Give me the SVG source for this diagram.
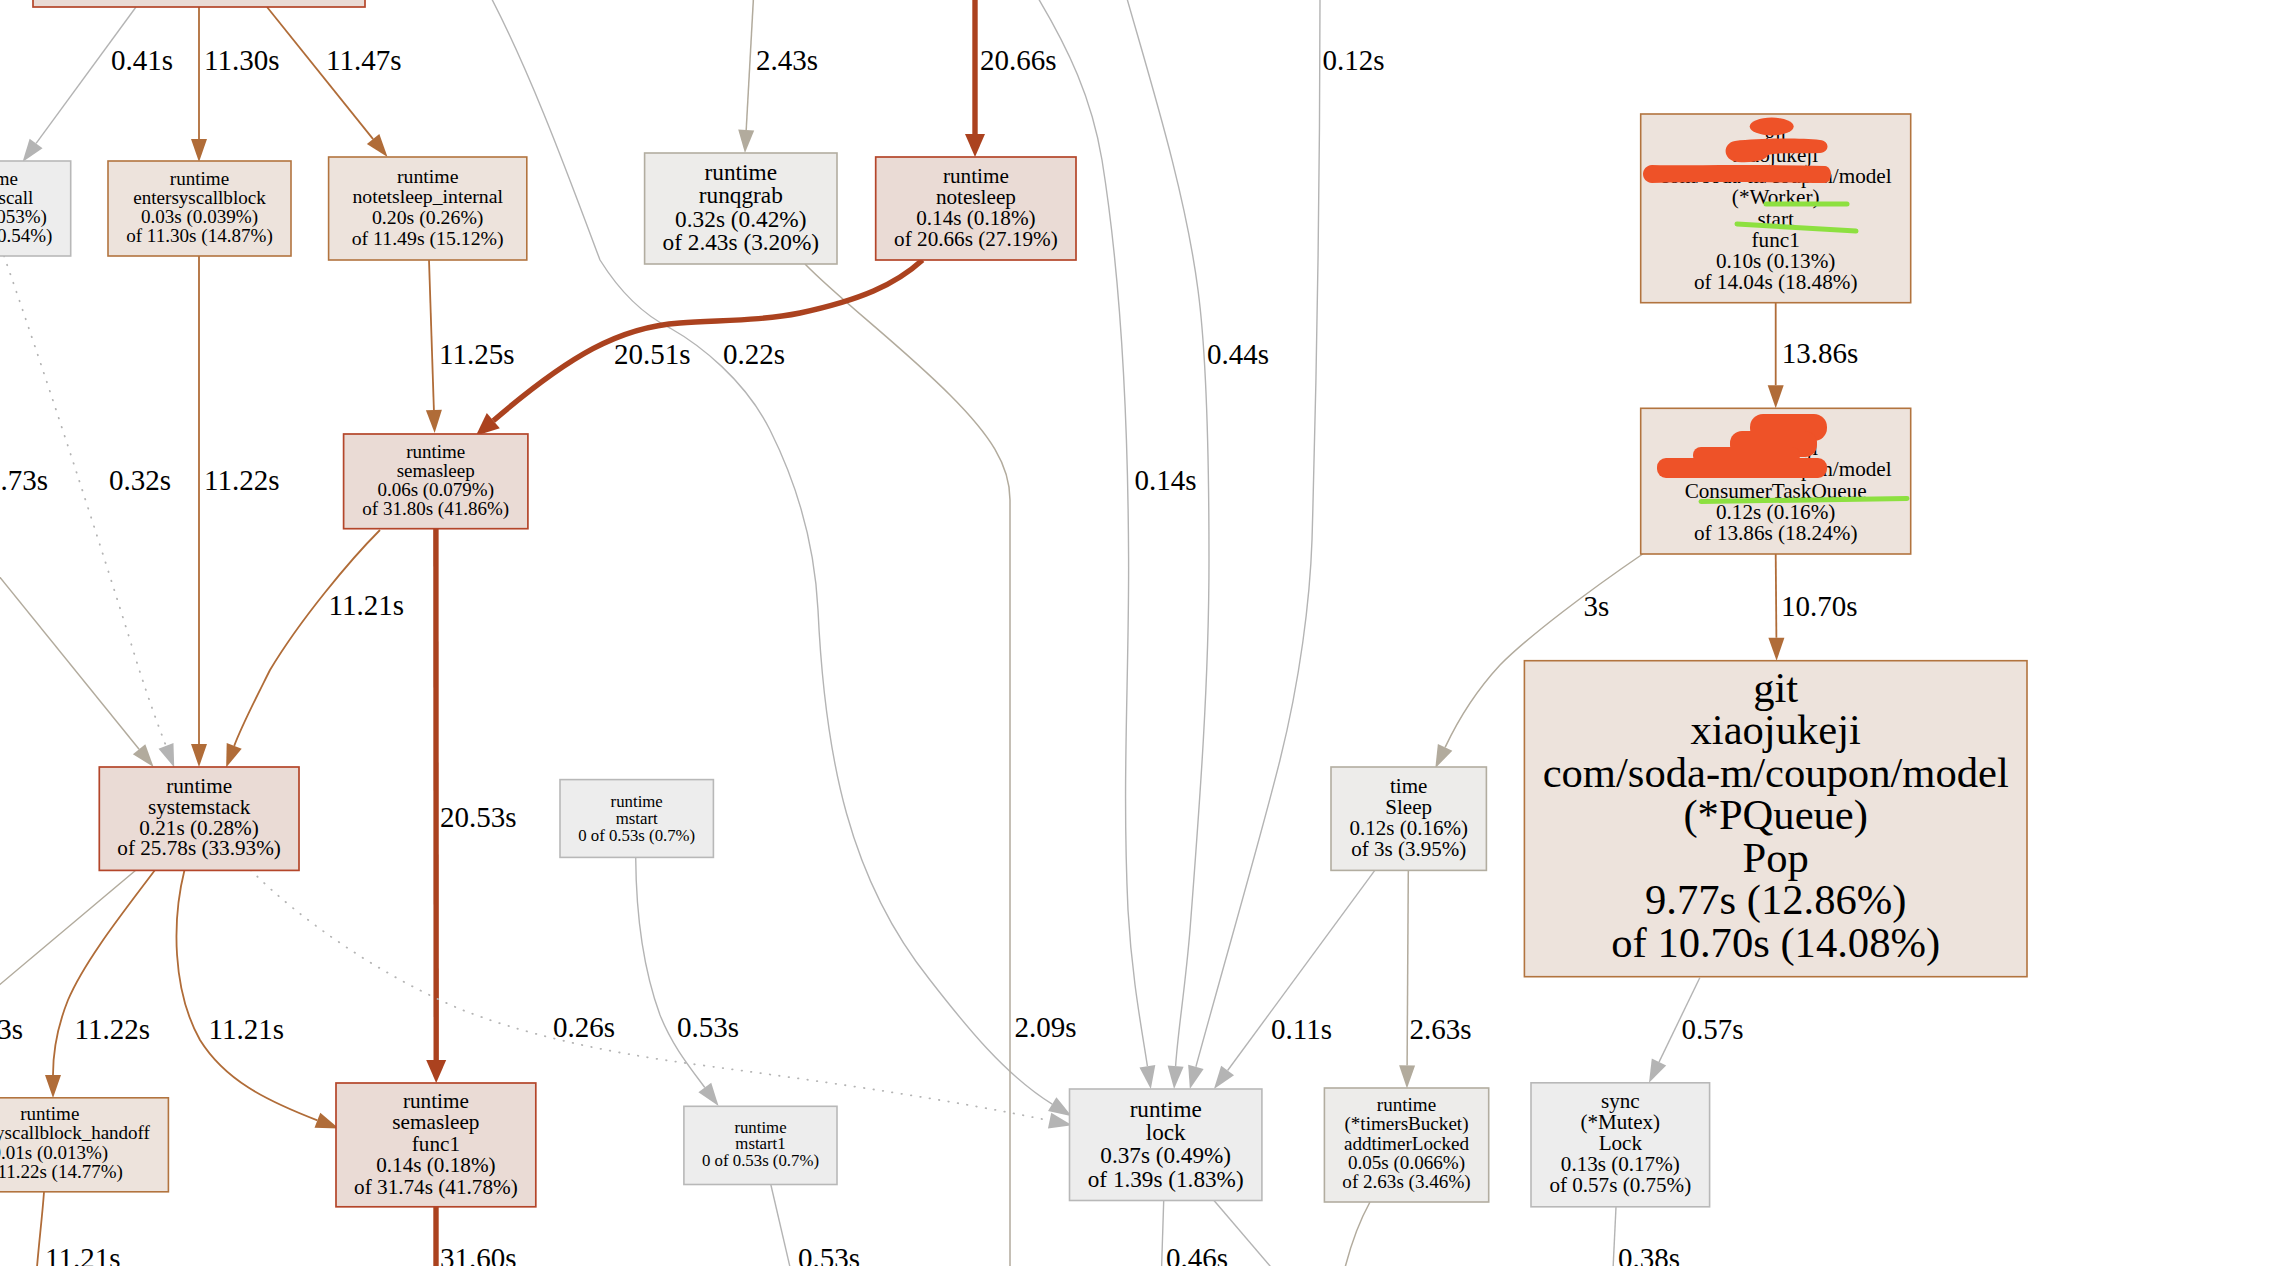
<svg xmlns="http://www.w3.org/2000/svg" width="2278" height="1266" viewBox="0 0 2278 1266">
<style>
.n-red{fill:#eadbd5;stroke:#b4462a;stroke-width:1.7}
.n-brown{fill:#ede3dc;stroke:#b2743f;stroke-width:1.6}
.n-tan{fill:#edecea;stroke:#b2ada0;stroke-width:1.6}
.n-grey{fill:#ededed;stroke:#b8b8b8;stroke-width:1.6}
.t{font-family:"Liberation Serif","Times New Roman",serif;text-anchor:middle;fill:#000}
.el{font-family:"Liberation Serif","Times New Roman",serif;font-size:29px;fill:#000}
.e{fill:none}
.e-red{stroke:#ab421f;stroke-width:5.4}
.e-brown{stroke:#b06c38;stroke-width:1.8}
.e-tan{stroke:#b2ab9d;stroke-width:1.5}
.e-grey{stroke:#b4b4b4;stroke-width:1.4}
.e-dot{stroke:#b4b4b4;stroke-width:1.8;stroke-dasharray:0.5 9;stroke-linecap:round}
.redact{fill:#ee5228}
.hl{stroke:#8de040;stroke-width:5;stroke-linecap:round;fill:none}
</style>
<defs>
<marker id="a-grey" markerUnits="userSpaceOnUse" markerWidth="24" markerHeight="18" refX="0" refY="9" orient="auto" overflow="visible"><path d="M0,1 L23,9 L0,17 z" fill="#b4b4b4"/></marker>
<marker id="a-tan" markerUnits="userSpaceOnUse" markerWidth="24" markerHeight="18" refX="0" refY="9" orient="auto" overflow="visible"><path d="M0,1 L23,9 L0,17 z" fill="#b2ab9d"/></marker>
<marker id="a-brown" markerUnits="userSpaceOnUse" markerWidth="24" markerHeight="18" refX="0" refY="9" orient="auto" overflow="visible"><path d="M0,1 L23,9 L0,17 z" fill="#b06c38"/></marker>
<marker id="a-red" markerUnits="userSpaceOnUse" markerWidth="24" markerHeight="22" refX="0" refY="11" orient="auto" overflow="visible"><path d="M0,1 L23,11 L0,21 z" fill="#ab421f"/></marker>
</defs>
<rect x="0" y="0" width="2278" height="1266" fill="#fff"/>

<g id="connectors">
<path class="e e-grey" d="M136,7 L36.1,143.4" marker-end="url(#a-grey)"/>
<path class="e e-brown" d="M199,7 L199,139" marker-end="url(#a-brown)"/>
<path class="e e-brown" d="M267,7 L373.1,139.1" marker-end="url(#a-brown)"/>
<path class="e e-tan" d="M754,-12 L746.2,130" marker-end="url(#a-tan)"/>
<path class="e e-red" d="M975,-12 L975,134" marker-end="url(#a-red)"/>
<path class="e e-grey" d="M1032,-12 C1070,50 1092,100 1102,160 C1118,260 1128,400 1128.6,560 C1129,680 1122,780 1128,910 C1132,980 1142,1030 1147.4,1066.2" marker-end="url(#a-grey)"/>
<path class="e e-grey" d="M1124,-12 C1150,80 1185,190 1198,290 C1206,350 1209,450 1209,560 C1209,680 1200,800 1190,930 C1185,990 1178,1030 1175.6,1066.1" marker-end="url(#a-grey)"/>
<path class="e e-grey" d="M1320,-12 C1320,200 1316,400 1312,540 C1310,600 1300,680 1280,760 C1260,840 1225,960 1195.9,1066.8" marker-end="url(#a-grey)"/>
<path class="e e-grey" d="M486,-12 C530,70 570,180 600,260 C625,300 650,318 670,328 C700,345 745,380 770,430 C800,490 815,550 818,610 C825,760 850,880 930,980 C965,1025 1005,1075 1052.2,1104.1" marker-end="url(#a-grey)"/>
<path class="e e-tan" d="M805,264 C840,300 900,345 950,395 C990,435 1010,465 1010,500 L1010,1280"/>
<path class="e e-red" d="M922.5,260 C895,285 860,300 800,313 C760,321 720,320 680,323 C620,327 570,355 493.3,420.7" marker-end="url(#a-red)"/>
<path class="e e-brown" d="M429,260 L433.9,410" marker-end="url(#a-brown)"/>
<path class="e e-red" d="M435.9,529 L436.2,1060" marker-end="url(#a-red)"/>
<path class="e e-brown" d="M380,530 C350,560 300,620 270,670 C255,700 242,725 234.2,745.9" marker-end="url(#a-brown)"/>
<path class="e e-brown" d="M199,256 L199,744" marker-end="url(#a-brown)"/>
<path class="e e-dot" d="M4,256 C30,330 80,480 130,640 C145,690 158,725 166,745.9" marker-end="url(#a-grey)"/>
<path class="e e-tan" d="M-40,528 L139.1,749.2" marker-end="url(#a-tan)"/>
<path class="e e-tan" d="M136,870 L-40,1018"/>
<path class="e e-brown" d="M155,870 C125,910 85,960 68,1000 C58,1025 53,1050 53,1074.9" marker-end="url(#a-brown)"/>
<path class="e e-brown" d="M184.5,870 C172,920 172,990 200,1040 C225,1080 265,1100 317.4,1120.3" marker-end="url(#a-brown)"/>
<path class="e e-dot" d="M250.7,870 C300,920 380,975 460,1009 C520,1033 600,1052 700,1065 C850,1085 950,1100 1049.6,1120.6" marker-end="url(#a-grey)"/>
<path class="e e-brown" d="M44,1192 C42,1220 38,1250 36,1280"/>
<path class="e e-red" d="M436,1207 L436,1280"/>
<path class="e e-grey" d="M635.7,857.4 C636,900 640,960 660,1015 C672,1045 688,1065 704.8,1087.5" marker-end="url(#a-grey)"/>
<path class="e e-grey" d="M770.8,1184.5 L793,1280"/>
<path class="e e-grey" d="M1374.8,870.4 L1227.6,1070.5" marker-end="url(#a-grey)"/>
<path class="e e-tan" d="M1408.3,870.4 L1407.1,1065.4" marker-end="url(#a-tan)"/>
<path class="e e-tan" d="M1642.7,554 C1590,590 1530,635 1500,665 C1475,692 1458,720 1445.1,747.4" marker-end="url(#a-tan)"/>
<path class="e e-brown" d="M1775.7,302.7 L1775.7,385.3" marker-end="url(#a-brown)"/>
<path class="e e-brown" d="M1775.7,554 L1776.4,637.7" marker-end="url(#a-brown)"/>
<path class="e e-grey" d="M1699.8,977.7 L1659,1062.1" marker-end="url(#a-grey)"/>
<path class="e e-grey" d="M1616,1207 L1612.5,1280"/>
<path class="e e-tan" d="M1370,1202 C1360,1220 1350,1245 1342,1280"/>
<path class="e e-grey" d="M1163.7,1200.5 L1161.2,1280"/>
<path class="e e-grey" d="M1214,1200.5 L1282,1280"/>

<text class="el" x="111" y="70">0.41s</text>
<text class="el" x="204" y="70">11.30s</text>
<text class="el" x="326" y="70">11.47s</text>
<text class="el" x="756" y="70">2.43s</text>
<text class="el" x="980" y="70">20.66s</text>
<text class="el" x="1322.5" y="70">0.12s</text>
<text class="el" x="1207" y="364">0.44s</text>
<text class="el" x="1134.6" y="490">0.14s</text>
<text class="el" x="439" y="364">11.25s</text>
<text class="el" x="614" y="364">20.51s</text>
<text class="el" x="723" y="364">0.22s</text>
<text class="el" x="1781.7" y="363.3">13.86s</text>
<text class="el" x="1583.6" y="616">3s</text>
<text class="el" x="1781" y="616">10.70s</text>
<text class="el" x="48" y="490" text-anchor="end">2.73s</text>
<text class="el" x="109" y="490">0.32s</text>
<text class="el" x="204" y="490">11.22s</text>
<text class="el" x="328.6" y="615">11.21s</text>
<text class="el" x="440" y="826.7">20.53s</text>
<text class="el" x="23" y="1038.6" text-anchor="end">1.03s</text>
<text class="el" x="74.6" y="1038.6">11.22s</text>
<text class="el" x="208.6" y="1038.6">11.21s</text>
<text class="el" x="553" y="1037">0.26s</text>
<text class="el" x="677" y="1037">0.53s</text>
<text class="el" x="1014.6" y="1037">2.09s</text>
<text class="el" x="1271" y="1038.6">0.11s</text>
<text class="el" x="1409.6" y="1038.6">2.63s</text>
<text class="el" x="1681.5" y="1038.6">0.57s</text>
<text class="el" x="45" y="1268">11.21s</text>
<text class="el" x="440" y="1268">31.60s</text>
<text class="el" x="798" y="1268">0.53s</text>
<text class="el" x="1166" y="1268">0.46s</text>
<text class="el" x="1618" y="1268">0.38s</text>
</g>

<g id="n_top"><rect class="n-red" x="33" y="-60" width="332" height="67"/></g>

<g id="n_syscall"><rect class="n-grey" x="-93.5" y="161" width="164.2" height="95"/>
<text class="t" style="font-size:19px"><tspan x="-11.5" y="185">runtime</tspan><tspan x="-11.5" y="204">entersyscall</tspan><tspan x="-11.5" y="223">0.04s (0.053%)</tspan><tspan x="-11.5" y="242">of 0.41s (0.54%)</tspan></text></g>

<g id="n_entersyscallblock"><rect class="n-brown" x="108" y="161" width="183" height="95"/>
<text class="t" style="font-size:19.1px"><tspan x="199.5" y="185">runtime</tspan><tspan x="199.5" y="204">entersyscallblock</tspan><tspan x="199.5" y="223">0.03s (0.039%)</tspan><tspan x="199.5" y="242">of 11.30s (14.87%)</tspan></text></g>

<g id="n_notetsleep_internal"><rect class="n-brown" x="328.6" y="157" width="198.2" height="103"/>
<text class="t" style="font-size:19.8px"><tspan x="427.7" y="182.7">runtime</tspan><tspan x="427.7" y="203.4">notetsleep_internal</tspan><tspan x="427.7" y="224.1">0.20s (0.26%)</tspan><tspan x="427.7" y="244.8">of 11.49s (15.12%)</tspan></text></g>

<g id="n_runqgrab"><rect class="n-tan" x="644.6" y="153" width="192.4" height="111"/>
<text class="t" style="font-size:23.3px"><tspan x="740.8" y="180">runtime</tspan><tspan x="740.8" y="203.3">runqgrab</tspan><tspan x="740.8" y="226.6">0.32s (0.42%)</tspan><tspan x="740.8" y="249.9">of 2.43s (3.20%)</tspan></text></g>

<g id="n_notesleep"><rect class="n-red" x="875.7" y="157" width="200.3" height="103"/>
<text class="t" style="font-size:21.2px"><tspan x="975.9" y="183">runtime</tspan><tspan x="975.9" y="204.1">notesleep</tspan><tspan x="975.9" y="225.2">0.14s (0.18%)</tspan><tspan x="975.9" y="246.3">of 20.66s (27.19%)</tspan></text></g>

<g id="n_semasleep"><rect class="n-red" x="343.6" y="434" width="184.3" height="94.7"/>
<text class="t" style="font-size:19px"><tspan x="435.7" y="458.3">runtime</tspan><tspan x="435.7" y="477.3">semasleep</tspan><tspan x="435.7" y="496.3">0.06s (0.079%)</tspan><tspan x="435.7" y="515.3">of 31.80s (41.86%)</tspan></text></g>

<g id="n_systemstack"><rect class="n-red" x="99.3" y="767" width="199.7" height="103.4"/>
<text class="t" style="font-size:21.2px"><tspan x="199.1" y="792.7">runtime</tspan><tspan x="199.1" y="813.6">systemstack</tspan><tspan x="199.1" y="834.5">0.21s (0.28%)</tspan><tspan x="199.1" y="855.4">of 25.78s (33.93%)</tspan></text></g>

<g id="n_mstart"><rect class="n-grey" x="560" y="779.6" width="153.4" height="77.8"/>
<text class="t" style="font-size:16.8px"><tspan x="636.7" y="807">runtime</tspan><tspan x="636.7" y="823.8">mstart</tspan><tspan x="636.7" y="840.6">0 of 0.53s (0.7%)</tspan></text></g>

<g id="n_sleep"><rect class="n-tan" x="1331" y="767" width="155.4" height="103.4"/>
<text class="t" style="font-size:21px"><tspan x="1408.7" y="793">time</tspan><tspan x="1408.7" y="813.9">Sleep</tspan><tspan x="1408.7" y="834.8">0.12s (0.16%)</tspan><tspan x="1408.7" y="855.7">of 3s (3.95%)</tspan></text></g>

<g id="n_pqueue"><rect class="n-brown" x="1524.4" y="660.7" width="502.6" height="316"/>
<text class="t" style="font-size:42.6px"><tspan x="1775.7" y="701.5">git</tspan><tspan x="1775.7" y="744">xiaojukeji</tspan><tspan x="1775.7" y="786.5">com/soda-m/coupon/model</tspan><tspan x="1775.7" y="829">(*PQueue)</tspan><tspan x="1775.7" y="871.5">Pop</tspan><tspan x="1775.7" y="914">9.77s (12.86%)</tspan><tspan x="1775.7" y="956.5">of 10.70s (14.08%)</tspan></text></g>

<g id="n_worker"><rect class="n-brown" x="1640.7" y="114" width="270" height="188.7"/>
<text class="t" style="font-size:21.2px"><tspan x="1775.7" y="140.8">git</tspan><tspan x="1775.7" y="162">xiaojukeji</tspan><tspan x="1775.7" y="183.2">com/soda-m/coupon/model</tspan><tspan x="1775.7" y="204.4">(*Worker)</tspan><tspan x="1775.7" y="225.6">start</tspan><tspan x="1775.7" y="246.8">func1</tspan><tspan x="1775.7" y="268">0.10s (0.13%)</tspan><tspan x="1775.7" y="289.2">of 14.04s (18.48%)</tspan></text>
<ellipse class="redact" cx="1771.7" cy="126.5" rx="22" ry="9"/>
<path class="redact" d="M1735,141 C1760,138 1800,138 1820,140 C1830,141 1830,152 1820,153 C1800,154 1775,152 1768,155 C1766,160 1755,163 1738,162 C1722,161 1722,143 1735,141 z"/>
<path class="redact" d="M1652,165 C1700,166 1760,164 1825,166 C1833,167 1833,182 1825,183 C1780,183 1720,181 1652,183 C1640,182 1640,166 1652,165 z"/>
<path class="hl" d="M1766,204 L1847,204"/>
<path class="hl" d="M1737,224 L1856,231"/>
</g>

<g id="n_ctq"><rect class="n-brown" x="1640.7" y="408.3" width="270" height="145.7"/>
<text class="t" style="font-size:21.2px"><tspan x="1775.7" y="434">git</tspan><tspan x="1775.7" y="455.2">xiaojukeji</tspan><tspan x="1775.7" y="476.4">com/soda-m/coupon/model</tspan><tspan x="1775.7" y="497.6">ConsumerTaskQueue</tspan><tspan x="1775.7" y="518.8">0.12s (0.16%)</tspan><tspan x="1775.7" y="540">of 13.86s (18.24%)</tspan></text>
<rect class="redact" x="1750" y="414" width="77" height="27" rx="13"/>
<rect class="redact" x="1730" y="431" width="87" height="26" rx="12"/>
<rect class="redact" x="1693" y="447" width="107" height="17" rx="8"/>
<rect class="redact" x="1657" y="458" width="170" height="20" rx="9"/>
<path class="hl" d="M1701,501.5 L1907,498.5"/>
</g>

<g id="n_handoff"><rect class="n-brown" x="-68.8" y="1097.8" width="237.2" height="94"/>
<text class="t" style="font-size:19px"><tspan x="49.8" y="1120">runtime</tspan><tspan x="49.8" y="1139.3">entersyscallblock_handoff</tspan><tspan x="49.8" y="1158.6">0.01s (0.013%)</tspan><tspan x="49.8" y="1177.9">of 11.22s (14.77%)</tspan></text></g>

<g id="n_semasleep_func1"><rect class="n-red" x="336" y="1083" width="199.8" height="123.8"/>
<text class="t" style="font-size:21.2px"><tspan x="435.9" y="1108">runtime</tspan><tspan x="435.9" y="1129.4">semasleep</tspan><tspan x="435.9" y="1150.8">func1</tspan><tspan x="435.9" y="1172.2">0.14s (0.18%)</tspan><tspan x="435.9" y="1193.6">of 31.74s (41.78%)</tspan></text></g>

<g id="n_mstart1"><rect class="n-grey" x="683.9" y="1106.3" width="153.1" height="78.2"/>
<text class="t" style="font-size:16.8px"><tspan x="760.5" y="1132.5">runtime</tspan><tspan x="760.5" y="1149.3">mstart1</tspan><tspan x="760.5" y="1166.1">0 of 0.53s (0.7%)</tspan></text></g>

<g id="n_lock"><rect class="n-grey" x="1069.5" y="1089" width="192.4" height="111.5"/>
<text class="t" style="font-size:23.2px"><tspan x="1165.7" y="1117">runtime</tspan><tspan x="1165.7" y="1140.2">lock</tspan><tspan x="1165.7" y="1163.4">0.37s (0.49%)</tspan><tspan x="1165.7" y="1186.6">of 1.39s (1.83%)</tspan></text></g>

<g id="n_addtimer"><rect class="n-tan" x="1324.4" y="1088" width="164.3" height="114"/>
<text class="t" style="font-size:19.1px"><tspan x="1406.5" y="1110.7">runtime</tspan><tspan x="1406.5" y="1130.1">(*timersBucket)</tspan><tspan x="1406.5" y="1149.5">addtimerLocked</tspan><tspan x="1406.5" y="1168.9">0.05s (0.066%)</tspan><tspan x="1406.5" y="1188.3">of 2.63s (3.46%)</tspan></text></g>

<g id="n_mutex"><rect class="n-grey" x="1531" y="1082.8" width="178.6" height="124"/>
<text class="t" style="font-size:21.1px"><tspan x="1620.3" y="1108">sync</tspan><tspan x="1620.3" y="1129">(*Mutex)</tspan><tspan x="1620.3" y="1150">Lock</tspan><tspan x="1620.3" y="1171">0.13s (0.17%)</tspan><tspan x="1620.3" y="1192">of 0.57s (0.75%)</tspan></text></g>
</svg>
